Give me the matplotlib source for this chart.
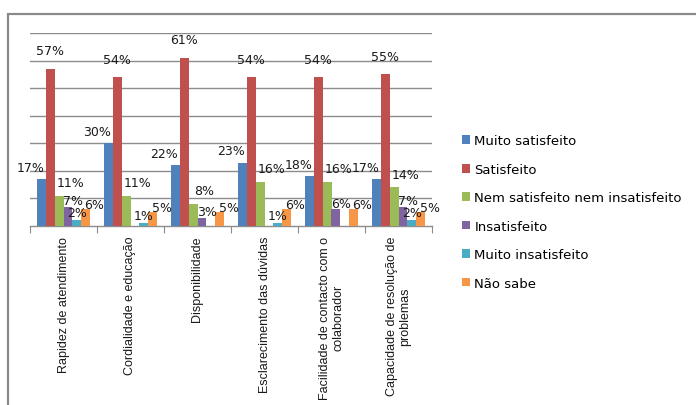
import matplotlib
matplotlib.use("Agg")
import matplotlib.pyplot as plt
from matplotlib.patches import Rectangle
import numpy as np

categories = [
    "Rapidez de atendimento",
    "Cordialidade e educação",
    "Disponibilidade",
    "Esclarecimento das dúvidas",
    "Facilidade de contacto com o\ncolaborador",
    "Capacidade de resolução de\nproblemas",
]
series_names = [
    "Muito satisfeito",
    "Satisfeito",
    "Nem satisfeito nem insatisfeito",
    "Insatisfeito",
    "Muito insatisfeito",
    "Não sabe",
]
muito_satisfeito = [17, 30, 22, 23, 18, 17]
satisfeito = [57, 54, 61, 54, 54, 55]
nem_nem = [11, 11, 8, 16, 16, 14]
insatisfeito = [7, 0, 3, 0, 6, 7]
muito_insatisfeito = [2, 1, 0, 1, 0, 2]
nao_sabe = [6, 5, 5, 6, 6, 5]
series_values = [muito_satisfeito, satisfeito, nem_nem, insatisfeito,
                 muito_insatisfeito, nao_sabe]

colors = ["#4F81BD", "#C0504D", "#9BBB59", "#8064A2", "#4BACC6", "#F79646"]
# label offsets (pixels) per series, relative to the top centre of each bar
label_dx = [-11, 0, 11, 5, 0, 9]
label_dy = [12, 18, 13, 6, 8, 5]

W, H = 696, 406
fig = plt.figure(figsize=(W / 100, H / 100), dpi=100)

# outer chart frame
fig.patches.append(Rectangle((8 / W, -0.1), 2, (406 - 15) / H + 0.1,
                             transform=fig.transFigure, fill=False,
                             edgecolor="#8a8a8a", linewidth=1.6))

ax = fig.add_axes([30 / W, (H - 227) / H, (432 - 30) / W, (227 - 34) / H])

n_cat = len(categories)
n_ser = len(series_values)
x = np.arange(n_cat)
bw = 0.79 / n_ser

for i, (vals, name, col) in enumerate(zip(series_values, series_names, colors)):
    pos = x - 0.395 + bw * (i + 0.5)
    v = np.array(vals) / 100.0
    bars = ax.bar(pos, v, width=bw, color=col, label=name, zorder=3,
                  linewidth=0)
    for b, val in zip(bars, vals):
        if val == 0:
            continue
        ax.annotate(f"{val}%", (b.get_x() + b.get_width() / 2, b.get_height()),
                    xytext=(label_dx[i], label_dy[i]), textcoords="offset pixels",
                    ha="center", va="center", fontsize=9, color="#1a1a1a",
                    family="DejaVu Sans", zorder=5)

ax.set_xlim(-0.5, n_cat - 0.5)
ax.set_ylim(0, 0.70)
ax.set_yticks(np.arange(0.1, 0.71, 0.1))
ax.yaxis.grid(True, color="#8c8c8c", linewidth=1.0, zorder=0)
ax.tick_params(axis="y", left=False, labelleft=False)
for s in ["top", "right", "left"]:
    ax.spines[s].set_visible(False)
ax.spines["bottom"].set_color("#8c8c8c")
ax.spines["bottom"].set_linewidth(1.0)

ax.set_xticks(np.arange(-0.5, n_cat, 1.0))
ax.tick_params(axis="x", which="major", length=5, color="#8c8c8c",
               labelbottom=False)
ax.set_xticks(x, minor=True)
ax.set_xticklabels(categories, minor=True, rotation=90, fontsize=9,
                   family="Liberation Sans", va="top", ha="center",
                   multialignment="center", color="#1a1a1a")
ax.tick_params(axis="x", which="minor", length=0, pad=7)

leg = fig.legend(loc="center left", bbox_to_anchor=(450 / W, (H - 213) / H),
                 frameon=False, handlelength=0.65,
                 handleheight=0.65, handletextpad=0.3, labelspacing=1.17,
                 prop={"family": "DejaVu Sans", "size": 9.5})

fig.savefig("out.png", dpi=100)
